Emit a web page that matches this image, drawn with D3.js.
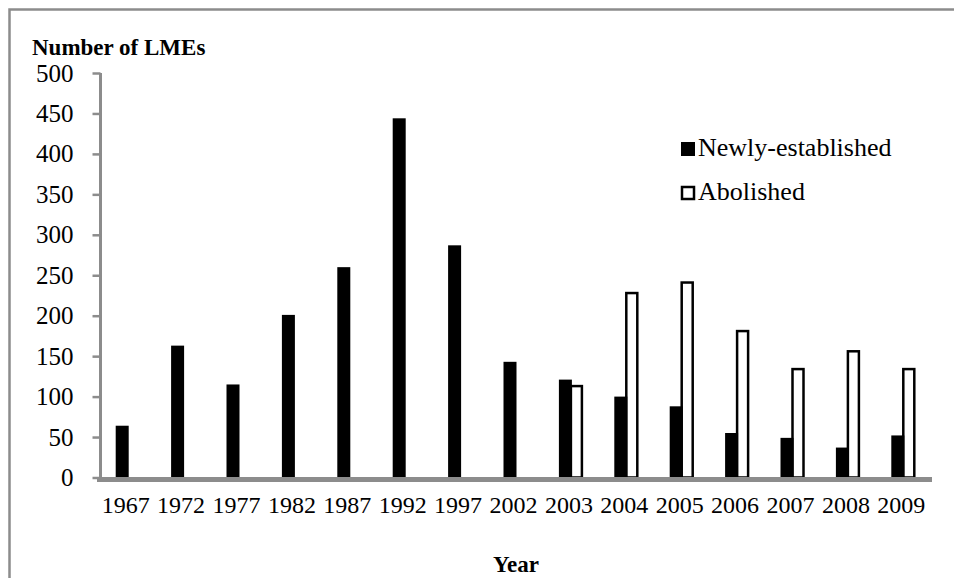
<!DOCTYPE html>
<html>
<head>
<meta charset="utf-8">
<script src="https://cdn.jsdelivr.net/npm/d3@7"></script>
<style>
  html, body { margin: 0; padding: 0; background: #fff; }
  svg { display: block; }
  text { font-family: "Liberation Serif", "Times New Roman", serif; fill: #000; }
</style>
</head>
<body>
<script>
const years = ["1967","1972","1977","1982","1987","1992","1997","2002","2003","2004","2005","2006","2007","2008","2009"];
const newlyEstablished = [64, 163, 115, 201, 260, 444, 287, 143, 121, 100, 88, 55, 49, 37, 52];
const abolished = [null, null, null, null, null, null, null, null, 113, 228, 241, 181, 134, 156, 134];
const yTicks = [0, 50, 100, 150, 200, 250, 300, 350, 400, 450, 500];
const seriesNames = ["Newly-established", "Abolished"];

const W = 954, H = 578;
const svg = d3.select("body").append("svg").attr("width", W).attr("height", H);

// outer frame (cropped at right and bottom)
svg.append("path")
  .attr("d", `M9.5,${H} L9.5,9.5 L${W},9.5`)
  .attr("fill", "none").attr("stroke", "#8c8c8c").attr("stroke-width", 2.5);

const x = d3.scaleBand().domain(years).range([101, 932]).padding(0);
const y = d3.scaleLinear().domain([0, 500]).range([477.5, 73]);
const sub = d3.scaleBand().domain(seriesNames).range([-13, 11]).padding(0);

// bars: abolished (white, outlined)
const g = svg.append("g");
g.selectAll("rect.abol")
  .data(years.map((yr, i) => ({ yr, v: abolished[i] })).filter(d => d.v != null))
  .join("rect")
  .attr("class", "abol")
  .attr("x", d => x(d.yr) + x.bandwidth() / 2 + sub("Abolished"))
  .attr("width", sub.bandwidth() - 1)
  .attr("y", d => y(d.v))
  .attr("height", d => y(0) - y(d.v))
  .attr("fill", "#fff").attr("stroke", "#000").attr("stroke-width", 2.5);

// bars: newly established (black)
g.selectAll("rect.newly")
  .data(years.map((yr, i) => ({ yr, v: newlyEstablished[i] })))
  .join("rect")
  .attr("class", "newly")
  .attr("x", d => x(d.yr) + x.bandwidth() / 2 + sub("Newly-established"))
  .attr("width", sub.bandwidth() + 1)
  .attr("y", d => y(d.v))
  .attr("height", d => y(0) - y(d.v))
  .attr("fill", "#000");

// y axis
const yAxis = svg.append("g")
  .attr("transform", "translate(100.5,0)")
  .call(d3.axisLeft(y).tickValues(yTicks).tickSize(8).tickPadding(19).tickFormat(d3.format("d")));
yAxis.select(".domain").attr("stroke", "#8c8c8c").attr("stroke-width", 3)
  .attr("d", `M0,${y(500)}V${y(0) + 2}`);
yAxis.selectAll(".tick line").attr("stroke", "#8c8c8c").attr("stroke-width", 2.5);
yAxis.selectAll(".tick text").attr("font-size", 25).style("font-family", '"Liberation Serif", "Times New Roman", serif').attr("fill", "#000");

// x axis
const xAxis = svg.append("g")
  .attr("transform", `translate(0,${y(0) + 2})`)
  .call(d3.axisBottom(x).tickSize(0).tickPadding(16));
xAxis.select(".domain").attr("stroke", "#8c8c8c").attr("stroke-width", 5)
  .attr("d", "M97,0H932");
xAxis.selectAll(".tick text").attr("font-size", 24).style("font-family", '"Liberation Serif", "Times New Roman", serif').attr("fill", "#000")
  .attr("dx", -3);

// axis titles
svg.append("text").attr("x", 32).attr("y", 55)
  .attr("font-size", 23).attr("font-weight", "bold").text("Number of LMEs");
svg.append("text").attr("x", 516).attr("y", 572).attr("text-anchor", "middle")
  .attr("font-size", 23).attr("font-weight", "bold").text("Year");

// legend
const legend = svg.append("g");
const legendRows = [
  { name: seriesNames[0], fill: "#000", stroke: "none", yb: 156 },
  { name: seriesNames[1], fill: "#fff", stroke: "#000", yb: 200 }
];
legendRows.forEach(r => {
  legend.append("rect")
    .attr("x", r.stroke === "none" ? 681 : 682)
    .attr("y", r.stroke === "none" ? r.yb - 14 : r.yb - 13)
    .attr("width", r.stroke === "none" ? 14 : 12)
    .attr("height", r.stroke === "none" ? 14 : 12)
    .attr("fill", r.fill).attr("stroke", r.stroke).attr("stroke-width", 2.5);
  legend.append("text").attr("x", 698).attr("y", r.yb)
    .attr("font-size", 26).text(r.name);
});
</script>
</body>
</html>
